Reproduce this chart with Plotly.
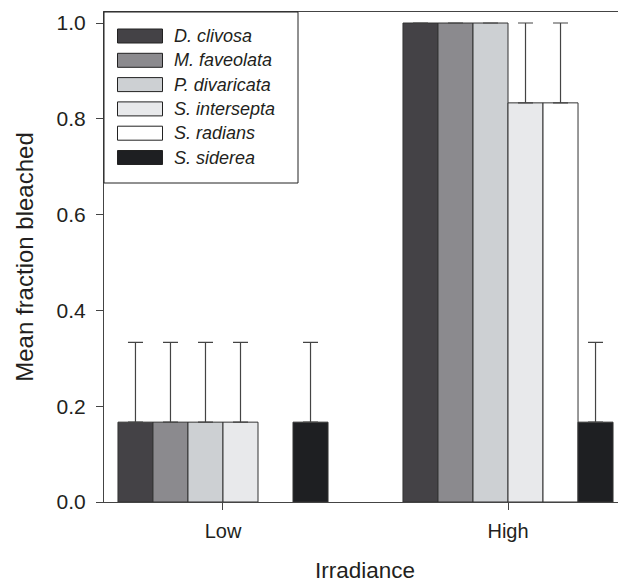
import plotly.graph_objects as go

categories = ["Low", "High"]
species = ["D. clivosa", "M. faveolata", "P. divaricata", "S. intersepta", "S. radians", "S. siderea"]
colors = ["#444246", "#8b8a8e", "#cdd0d3", "#e8e9eb", "#ffffff", "#1e1f22"]
means = {
    "D. clivosa":    [0.1667, 1.0],
    "M. faveolata":  [0.1667, 1.0],
    "P. divaricata": [0.1667, 1.0],
    "S. intersepta": [0.1667, 0.8333],
    "S. radians":    [None, 0.8333],
    "S. siderea":    [0.1667, 0.1667],
}
errors = {
    "D. clivosa":    [0.1667, None],
    "M. faveolata":  [0.1667, None],
    "P. divaricata": [0.1667, None],
    "S. intersepta": [0.1667, 0.1667],
    "S. radians":    [None, 0.1667],
    "S. siderea":    [0.1667, 0.1667],
}
y_ticks = [0.0, 0.2, 0.4, 0.6, 0.8, 1.0]

FONT = "Liberation Sans, Arial, Helvetica, sans-serif"
TXT = "#231f20"

fig = go.Figure()
for sp, c in zip(species, colors):
    fig.add_trace(go.Bar(
        x=categories, y=means[sp], name=sp,
        marker=dict(color=c, line=dict(color="#333333", width=1)),
        error_y=dict(type="data", array=errors[sp], symmetric=False,
                     arrayminus=[0, 0], color="#444444", thickness=1.2, width=7.5),
        showlegend=False,
    ))

# page offset caused by the default body margin of the html page
OFF = 8
W, H = 626 - OFF, 583 - OFF
ml, mr, mt = 104 - OFF, 0, 12 - OFF
mb = H - (502 - OFF)
pw, ph = W - ml - mr, H - mt - mb

def px(xp):
    return (xp - OFF - ml) / pw

def py(yp):
    return 1 - (yp - OFF - mt) / ph

shapes = []
annotations = []
shapes.append(dict(type="rect", xref="paper", yref="paper",
                   x0=px(104), x1=px(298), y0=py(183), y1=py(12),
                   line=dict(color="#222222", width=1), fillcolor="white", layer="above"))
for i, (sp, c) in enumerate(zip(species, colors)):
    yc = 36 + i * 24.3
    shapes.append(dict(type="rect", xref="paper", yref="paper",
                       x0=px(117.5), x1=px(162.5), y0=py(yc + 7), y1=py(yc - 7),
                       line=dict(color="#222222", width=1), fillcolor=c, layer="above"))
    annotations.append(dict(xref="paper", yref="paper", x=px(172), y=py(yc),
                            xanchor="left", yanchor="middle", showarrow=False,
                            text="<i>%s</i>" % sp,
                            font=dict(family=FONT, size=18, color=TXT)))

fig.update_layout(
    width=W, height=H,
    margin=dict(l=ml, r=mr, t=mt, b=mb),
    paper_bgcolor="white", plot_bgcolor="white",
    barmode="group", bargap=0.263, bargroupgap=0,
    font=dict(family=FONT, size=21, color=TXT),
    shapes=shapes, annotations=annotations,
    xaxis=dict(
        range=[-0.4175, 1.414], showline=True, linecolor="#444444", linewidth=1,
        mirror=True, ticks="outside", ticklen=7, tickcolor="#444444",
        tickfont=dict(size=20), ticklabelstandoff=4,
        showgrid=False, zeroline=False,
        title=dict(text="Irradiance", font=dict(size=22.5), standoff=27),
        automargin=False,
    ),
    yaxis=dict(
        range=[0, 1.023], tickvals=y_ticks, tickformat=".1f",
        showline=True, linecolor="#444444", linewidth=1,
        ticks="outside", ticklen=7, tickcolor="#444444",
        tickfont=dict(size=21), ticklabelstandoff=6,
        showgrid=False, zeroline=False,
        title=dict(text="Mean fraction bleached", font=dict(size=24), standoff=16),
        automargin=False,
    ),
)

fig.write_html("out.html")
